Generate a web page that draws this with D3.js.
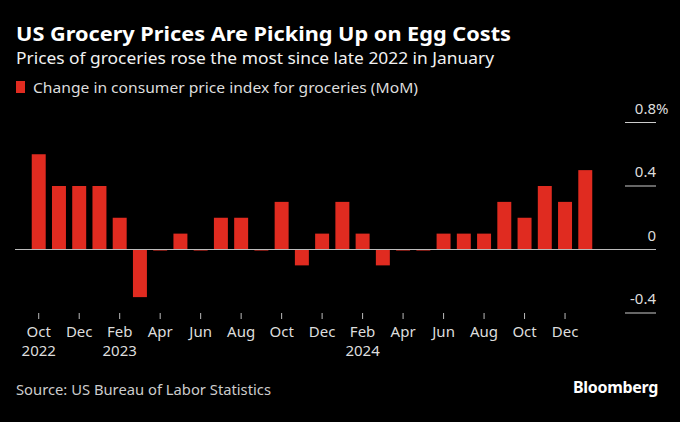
<!DOCTYPE html>
<html>
<head>
<meta charset="utf-8">
<script src="https://cdn.jsdelivr.net/npm/d3@7"></script>
<style>
  body { margin: 0; background: #000; }
  text { font-family: "Noto Sans", "Open Sans", sans-serif; }
</style>
</head>
<body>
<div id="chart"></div>
<script>
var months = ["2022-10","2022-11","2022-12","2023-01","2023-02","2023-03","2023-04","2023-05","2023-06","2023-07","2023-08","2023-09","2023-10","2023-11","2023-12","2024-01","2024-02","2024-03","2024-04","2024-05","2024-06","2024-07","2024-08","2024-09","2024-10","2024-11","2024-12","2025-01"];
var values = [0.6,0.4,0.4,0.4,0.2,-0.3,0.0,0.1,0.0,0.2,0.2,0.0,0.3,-0.1,0.1,0.3,0.1,-0.1,0.0,0.0,0.1,0.1,0.1,0.3,0.2,0.4,0.3,0.5];
var tickMonths = ["2022-10","2022-12","2023-02","2023-04","2023-06","2023-08","2023-10","2023-12","2024-02","2024-04","2024-06","2024-08","2024-10","2024-12"];
var tickNames = ["Oct","Dec","Feb","Apr","Jun","Aug","Oct","Dec","Feb","Apr","Jun","Aug","Oct","Dec"];
var yearLabels = {"2022-10": "2022", "2023-02": "2023", "2024-02": "2024"};
var yTicks = [-0.4, 0, 0.4, 0.8];

var W = 680, H = 422;
var red = "#e02b20";

var svg = d3.select("#chart").append("svg")
    .attr("width", W)
    .attr("height", H);

svg.append("rect").attr("width", W).attr("height", H).attr("fill", "#000");

// header
svg.append("text")
  .attr("x", 16).attr("y", 41)
  .attr("fill", "#fff")
  .style("font-size", "20px").style("font-weight", "bold")
  .attr("textLength", 495).attr("lengthAdjust", "spacingAndGlyphs")
  .text("US Grocery Prices Are Picking Up on Egg Costs");

svg.append("text")
  .attr("x", 16).attr("y", 64)
  .attr("fill", "#f2f2f2")
  .style("font-size", "17px")
  .attr("textLength", 478).attr("lengthAdjust", "spacingAndGlyphs")
  .text("Prices of groceries rose the most since late 2022 in January");

svg.append("rect")
  .attr("x", 16).attr("y", 81).attr("width", 9).attr("height", 12)
  .attr("fill", red);
svg.append("text")
  .attr("x", 33).attr("y", 93)
  .attr("fill", "#ddd")
  .style("font-size", "15px")
  .attr("textLength", 385).attr("lengthAdjust", "spacingAndGlyphs")
  .text("Change in consumer price index for groceries (MoM)");

var xScale = d3.scaleBand()
  .domain(months)
  .range([28.6, 595.4])
  .paddingInner(0.31)
  .paddingOuter(0.155);

var yScale = d3.scaleLinear()
  .domain([-0.4, 0.8])
  .range([313, 122.5]);

// right-hand value axis
var yAxis = svg.append("g");
yTicks.forEach(function(t) {
  var y = yScale(t);
  if (t !== 0) {
    yAxis.append("line")
      .attr("x1", 625).attr("x2", 656)
      .attr("y1", y).attr("y2", y)
      .attr("stroke", "#ccc").attr("stroke-width", 1);
  }
  yAxis.append("text")
    .attr("x", 656).attr("y", y - 9)
    .attr("text-anchor", "end")
    .attr("fill", "#ddd")
    .style("font-size", "15px")
    .text(t === 0 ? "0" : d3.format(".1f")(t).replace("−", "-"));
  if (t === 0.8) {
    yAxis.append("text")
      .attr("x", 656).attr("y", y - 9)
      .attr("fill", "#ddd")
      .style("font-size", "15px")
      .text("%");
  }
});

// bars
svg.append("g").selectAll("rect")
  .data(values)
  .join("rect")
    .attr("x", function(d, i) { return xScale(months[i]); })
    .attr("width", xScale.bandwidth())
    .attr("y", function(d) { return d >= 0 ? yScale(d) : yScale(0); })
    .attr("height", function(d) { return Math.max(Math.abs(yScale(d) - yScale(0)), 1.5); })
    .attr("fill", function(d) { return d === 0 ? "#7a1a14" : red; });

// zero line
svg.append("line")
  .attr("x1", 15).attr("x2", 656)
  .attr("y1", yScale(0)).attr("y2", yScale(0))
  .attr("stroke", "#bbb").attr("stroke-width", 1.2);

// x axis
var xAxis = svg.append("g")
  .attr("transform", "translate(0,313)")
  .call(d3.axisBottom(xScale)
    .tickValues(tickMonths)
    .tickSize(6)
    .tickPadding(7)
    .tickFormat(function(d) { return tickNames[tickMonths.indexOf(d)]; }));

xAxis.select(".domain").remove();
xAxis.selectAll(".tick line").attr("stroke", "#bbb");
xAxis.selectAll(".tick text")
  .attr("fill", "#ddd")
  .style("font-size", "15px")
  .attr("dy", "0.71em")
  .each(function(d) {
    if (yearLabels[d]) {
      d3.select(this).append("tspan")
        .attr("x", 0).attr("dy", "1.3em")
        .text(yearLabels[d]);
    }
  });

// footer
svg.append("text")
  .attr("x", 16).attr("y", 395)
  .attr("fill", "#ccc")
  .style("font-size", "14.5px")
  .attr("textLength", 255).attr("lengthAdjust", "spacingAndGlyphs")
  .text("Source: US Bureau of Labor Statistics");

svg.append("text")
  .attr("x", 658).attr("y", 393)
  .attr("text-anchor", "end")
  .attr("fill", "#fff")
  .style("font-size", "16px").style("font-weight", "bold")
  .style("letter-spacing", "-0.3px")
  .text("Bloomberg");
</script>
</body>
</html>
